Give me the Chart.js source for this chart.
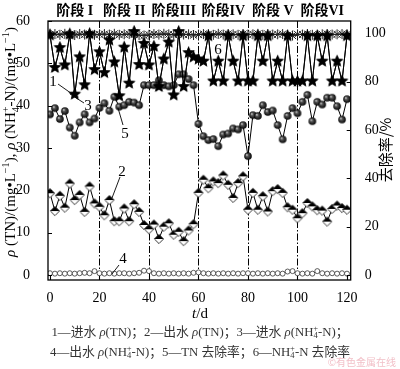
<!DOCTYPE html>
<html>
<head>
<meta charset="utf-8">
<script src="https://cdn.jsdelivr.net/npm/chart.js@4.4.1/dist/chart.umd.min.js"></script>
<style>
  html,body{margin:0;padding:0;background:#fff;}
  #wrap{position:relative;width:400px;height:369px;overflow:hidden;}
  #c{position:absolute;left:0;top:0;}
  .cap{position:absolute;left:0;width:400px;text-align:center;font-family:'Liberation Serif','Noto Sans CJK SC',serif;font-size:12.8px;color:#333;white-space:nowrap;line-height:15px;}
  .cap i{font-style:italic;}
  .cap sub{font-size:8.5px;vertical-align:-2px;line-height:0;}
  .cap sup{font-size:8.5px;vertical-align:5px;line-height:0;margin-left:-4.5px;}
  #wm{position:absolute;right:4px;top:354px;font-family:'Noto Sans CJK SC',sans-serif;font-size:10px;color:#f2c0c8;}
</style>
</head>
<body>
<div id="wrap">
<canvas id="c" width="400" height="369"></canvas>
<div class="cap" style="top:325px;">1—进水 <i>ρ</i>(TN)；2—出水 <i>ρ</i>(TN)；3—进水 <i>ρ</i>(NH<sub>4</sub><sup>+</sup>-N)；</div>
<div class="cap" style="top:345px;">4—出水 <i>ρ</i>(NH<sub>4</sub><sup>+</sup>-N)；5—TN 去除率；6—NH<sub>4</sub><sup>+</sup>-N 去除率</div>
<div id="wm">©有色金属在线</div>
</div>
<script>
// ---------------- data ----------------
const days = [0,2,4,6,8,10,12,14,16,18,20,22,24,26,28,30,32,34,36,38,40,42,44,46,48,50,52,54,56,58,60,62,64,66,68,70,72,74,76,78,80,82,84,86,88,90,92,94,96,98,100,102,104,106,108,110,112,114,116,118,120];
// 1 influent TN (mg/L, left axis)
const inTN = [56.7,49.0,53.7,49.6,56.9,42.7,51.5,44.9,57.0,48.5,52.7,47.8,55.5,50.3,42.3,53.8,45.3,57.5,49.7,54.7,49.6,54.0,44.5,51.0,55.0,42.5,57.5,44.5,52.5,51.5,51.0,50.5,56.5,45.8,50.5,45.8,56.5,50.5,45.8,56.5,45.8,45.8,56.5,50.5,56.5,45.8,50.5,45.8,56.5,45.8,45.8,45.8,56.5,45.8,56.5,50.5,56.5,45.8,50.5,45.8,56.5];
// 2 effluent TN
const outTN = [19.3,15.1,18.7,15.9,21.6,17.7,18.9,14.9,20.9,16.9,16.1,14.1,17.7,12.7,12.7,15.7,12.7,16.7,14.9,11.8,10.8,11.9,8.5,11.4,12.2,9.5,10.2,8.0,10.5,12.0,19.4,22.5,20.5,22.1,21.7,23.5,21.3,18.2,21.7,23.3,15.4,19.4,15.4,18.6,15.0,19.8,20.3,19.4,16.0,15.4,13.4,14.6,17.0,16.2,15.3,15.2,12.6,15.6,16.4,15.8,15.4];
// 3 influent NH4+-N (overlaps series 1 in the figure)
const inNH4 = [56.7,49.0,53.7,49.6,56.9,42.7,51.5,44.9,57.0,48.5,52.7,47.8,55.5,50.3,42.3,53.8,45.3,57.5,49.7,54.7,49.6,54.0,44.5,51.0,55.0,42.5,57.5,44.5,52.5,51.5,51.0,50.5,56.5,45.8,50.5,45.8,56.5,50.5,45.8,56.5,45.8,45.8,56.5,50.5,56.5,45.8,50.5,45.8,56.5,45.8,45.8,45.8,56.5,45.8,56.5,50.5,56.5,45.8,50.5,45.8,56.5];
// 4 effluent NH4+-N
const outNH4 = [0.4,0.3,0.4,0.3,0.4,0.3,0.4,0.5,0.4,0.9,0.4,0.3,0.4,0.3,0.4,0.4,0.3,0.4,0.5,1.0,0.9,0.4,0.3,0.4,0.3,0.4,0.3,0.4,0.3,0.5,0.6,0.4,0.3,0.4,0.3,0.4,0.3,0.4,0.3,0.4,0.4,0.3,0.4,0.3,0.4,0.3,0.4,0.3,0.8,0.9,0.4,0.3,0.4,0.3,0.9,0.4,0.3,0.4,0.3,0.4,0.3];
// 5 TN removal rate (%, right axis)
const remTN = [66.4,69.0,64.5,67.8,61.0,57.6,63.1,66.5,63.1,64.7,69.1,71.0,67.9,73.7,69.6,70.2,71.6,71.3,70.2,78.5,78.5,78.5,80.5,78.5,78.0,78.5,83.0,83.0,81.0,78.5,62.5,57.4,55.8,56.2,53.3,58.1,58.5,60.6,60.2,62.0,49.2,66.1,65.8,70.2,67.4,68.0,62.0,56.1,65.8,69.0,66.9,71.6,74.5,63.6,71.6,70.5,73.3,73.3,69.8,64.3,72.7];
// 6 NH4+-N removal rate
const remNH4 = [99.4,99.6,99.3,99.7,99.5,99.2,99.6,99.4,99.7,99.3,99.5,99.6,99.4,99.7,99.3,99.5,99.6,99.4,99.2,99.0,99.3,99.6,99.4,99.7,99.5,99.3,99.6,99.4,99.5,99.2,99.4,99.6,99.5,99.3,99.7,99.4,99.6,99.5,99.3,99.6,99.4,99.5,99.7,99.3,99.6,99.4,99.5,99.6,99.1,99.0,99.5,99.4,99.6,99.3,99.0,99.5,99.6,99.4,99.5,99.6,99.4];

const leftTicks = [0,10,20,30,40,50,60];
const rightTicks = [0,20,40,60,80,100];
const xTicks = [0,20,40,60,80,100,120];
const stageBounds = [20,40,60,80,100];
const stageCenters = [10,30,50,70,90,110];
const stageNames = ['阶段 I','阶段 II','阶段III','阶段IV','阶段 V','阶段VI'];

// ---------------- marker images ----------------
function makeStar(r){
  const s=Math.ceil(r*2+2), c=document.createElement('canvas'); c.width=c.height=s;
  const g=c.getContext('2d'); g.translate(s/2,s/2); g.beginPath();
  for(let i=0;i<10;i++){const rr=i%2?r*0.42:r; const a=-Math.PI/2+i*Math.PI/5; g.lineTo(rr*Math.cos(a),rr*Math.sin(a));}
  g.closePath(); g.fillStyle='#000'; g.fill(); return c;
}
function makeHalfDiamond(r){
  const s=Math.ceil(r*2+2), c=document.createElement('canvas'); c.width=c.height=s;
  const g=c.getContext('2d'), m=s/2;
  g.beginPath(); g.moveTo(m,m-r); g.lineTo(m+r,m); g.lineTo(m,m+r); g.lineTo(m-r,m); g.closePath();
  g.fillStyle='#fff'; g.fill(); g.lineWidth=0.9; g.strokeStyle='#222'; g.stroke();
  g.beginPath(); g.moveTo(m,m-r); g.lineTo(m+r,m); g.lineTo(m-r,m); g.closePath(); g.fillStyle='#000'; g.fill();
  return c;
}
function makeSphere(r){
  const s=Math.ceil(r*2+2), c=document.createElement('canvas'); c.width=c.height=s;
  const g=c.getContext('2d'), m=s/2;
  const gr=g.createRadialGradient(m-r*0.35,m-r*0.35,0,m,m,r);
  gr.addColorStop(0,'#e8e8e8'); gr.addColorStop(0.35,'#555'); gr.addColorStop(1,'#000');
  g.beginPath(); g.arc(m,m,r,0,Math.PI*2); g.fillStyle=gr; g.fill(); return c;
}
const starImg=makeStar(6.5), diaImg=makeHalfDiamond(4.6), sphImg=makeSphere(3.8);

const pts = arr => days.map((d,i)=>({x:d,y:arr[i]}));

// ---------------- overlay plugin ----------------
function drawRich(ctx, segs, size, x, y, center){
  const fam="'Liberation Serif','Noto Sans CJK SC',serif";
  const fontOf=s=>(s.i?'italic ':'')+((s.sup||s.sub)?size*0.68:size)+'px '+fam;
  let w=0, hold=0;
  segs.forEach(s=>{ctx.font=fontOf(s); const mw=ctx.measureText(s.t).width; if(s.keep){hold=mw;} else {w+=Math.max(mw,hold); hold=0;}});
  let cx = center ? x - w/2 : x; hold=0;
  segs.forEach(s=>{
    ctx.font=fontOf(s); const mw=ctx.measureText(s.t).width;
    const dy = s.sup ? -size*0.38 : (s.sub ? size*0.25 : 0);
    ctx.fillText(s.t,cx,y+dy);
    if(s.keep){hold=mw;} else {cx+=Math.max(mw,hold); hold=0;}
  });
}
const overlay = {
  id:'overlay',
  beforeDatasetsDraw(chart){
    const {ctx, chartArea:a, scales:{x}} = chart;
    ctx.save(); ctx.strokeStyle='#000'; ctx.lineWidth=1; ctx.setLineDash([7,2,1.5,2]);
    stageBounds.forEach(d=>{const px=Math.round(x.getPixelForValue(d))+0.5; ctx.beginPath(); ctx.moveTo(px,a.top); ctx.lineTo(px,a.bottom); ctx.stroke();});
    ctx.restore();
  },
  afterDraw(chart){
    const {ctx, chartArea:a, scales:{x,y,y1}} = chart;
    ctx.save();
    // frame
    ctx.strokeStyle='#000'; ctx.lineWidth=1.3;
    ctx.strokeRect(a.left,a.top,a.right-a.left,a.bottom-a.top);
    // inward ticks
    ctx.lineWidth=1.1; ctx.beginPath();
    leftTicks.forEach(v=>{const p=Math.round(y.getPixelForValue(v))+0.5; ctx.moveTo(a.left,p); ctx.lineTo(a.left+4,p);});
    rightTicks.forEach(v=>{const p=Math.round(y1.getPixelForValue(v))+0.5; ctx.moveTo(a.right,p); ctx.lineTo(a.right-4,p);});
    xTicks.forEach(v=>{const p=Math.round(x.getPixelForValue(v))+0.5; ctx.moveTo(p,a.bottom); ctx.lineTo(p,a.bottom-4);});
    ctx.stroke();
    // stage labels
    ctx.fillStyle='#000'; ctx.textAlign='center'; ctx.textBaseline='alphabetic';
    ctx.font="bold 14px 'Liberation Serif','Noto Sans CJK SC',serif";
    stageNames.forEach((n,i)=>ctx.fillText(n,x.getPixelForValue(stageCenters[i]),15));
    // series labels
    ctx.font="15px 'Liberation Serif',serif";
    ctx.fillText('1',53,86); ctx.fillText('3',88,110); ctx.fillText('5',125,138);
    ctx.fillText('2',122,176); ctx.fillText('4',123,263); ctx.fillText('6',218,54);
    ctx.lineWidth=0.9; ctx.beginPath();
    ctx.moveTo(58,84); ctx.lineTo(75,96);
    ctx.moveTo(84,103); ctx.lineTo(70,94);
    ctx.moveTo(123,125); ctx.lineTo(118,108);
    ctx.moveTo(120,177); ctx.lineTo(112,198);
    ctx.moveTo(119,265); ctx.lineTo(112,274);
    ctx.stroke();
    // left axis title
    ctx.save(); ctx.translate(11,142); ctx.rotate(-Math.PI/2); ctx.textAlign='left';
    drawRich(ctx,[{t:'ρ',i:1},{t:' (TN)/(mg•L'},{t:'−1',sup:1},{t:'), '},{t:'ρ',i:1},{t:' (NH'},{t:'4',sub:1,keep:1},{t:'+',sup:1},{t:'-N)/(mg•L'},{t:'−1',sup:1},{t:')'}],15,0,4,true);
    ctx.restore();
    // right axis title
    ctx.save(); ctx.translate(386,150); ctx.rotate(-Math.PI/2); ctx.textAlign='center';
    ctx.font="15px 'Noto Sans CJK SC','Liberation Serif',sans-serif"; ctx.fillText('去除率/%',0,5);
    ctx.restore();
    // x title
    ctx.textAlign='left';
    drawRich(ctx,[{t:'t',i:1},{t:'/d'}],15,200,318,true);
    ctx.restore();
  }
};

const tickFont={family:"'Liberation Serif',serif",size:14};
new Chart(document.getElementById('c'),{
  type:'line',
  data:{datasets:[
    {label:'1',data:pts(inTN),yAxisID:'y',order:0,borderColor:'#000',borderWidth:1,pointStyle:starImg,pointRadius:6},
    {label:'3',data:pts(inNH4),yAxisID:'y',order:1,borderColor:'#000',borderWidth:1,pointStyle:starImg,pointRadius:6},
    {label:'5',data:pts(remTN),yAxisID:'y1',order:2,borderColor:'#000',borderWidth:1,pointStyle:sphImg,pointRadius:4},
    {label:'2',data:pts(outTN),yAxisID:'y',order:3,borderColor:'#000',borderWidth:1,pointStyle:diaImg,pointRadius:5},
    {label:'6',data:pts(remNH4),yAxisID:'y1',order:4,borderColor:'#000',borderWidth:1,pointStyle:'star',pointRadius:5,pointBorderColor:'#222',pointBorderWidth:1},
    {label:'4',data:pts(outNH4),yAxisID:'y',order:5,borderColor:'#000',borderWidth:0.8,pointStyle:'circle',pointRadius:2.5,pointBackgroundColor:'#fff',pointBorderColor:'#333',pointBorderWidth:0.8}
  ]},
  options:{
    responsive:false, animation:false, devicePixelRatio:1,
    layout:{padding:{top:21,left:0,right:0,bottom:0}},
    plugins:{legend:{display:false},tooltip:{enabled:false}},
    elements:{line:{tension:0}},
    scales:{
      x:{type:'linear',min:-0.8,max:121.5,grid:{display:false},border:{display:false},
         afterBuildTicks:s=>{s.ticks=xTicks.map(v=>({value:v}));},
         afterFit:s=>{s.height=89;},
         ticks:{font:tickFont,color:'#000',padding:2,maxRotation:0,autoSkip:false}},
      y:{type:'linear',position:'left',min:-1.2,max:60,grid:{display:false},border:{display:false},
         afterBuildTicks:s=>{s.ticks=leftTicks.map(v=>({value:v}));},
         afterFit:s=>{s.width=48;},
         ticks:{font:tickFont,color:'#000',padding:10}},
      y1:{type:'linear',position:'right',min:-2,max:105,grid:{display:false},border:{display:false},
         afterBuildTicks:s=>{s.ticks=rightTicks.map(v=>({value:v}));},
         afterFit:s=>{s.width=49.3;},
         ticks:{font:tickFont,color:'#000',padding:6}}
    }
  },
  plugins:[overlay]
});
</script>
</body>
</html>
